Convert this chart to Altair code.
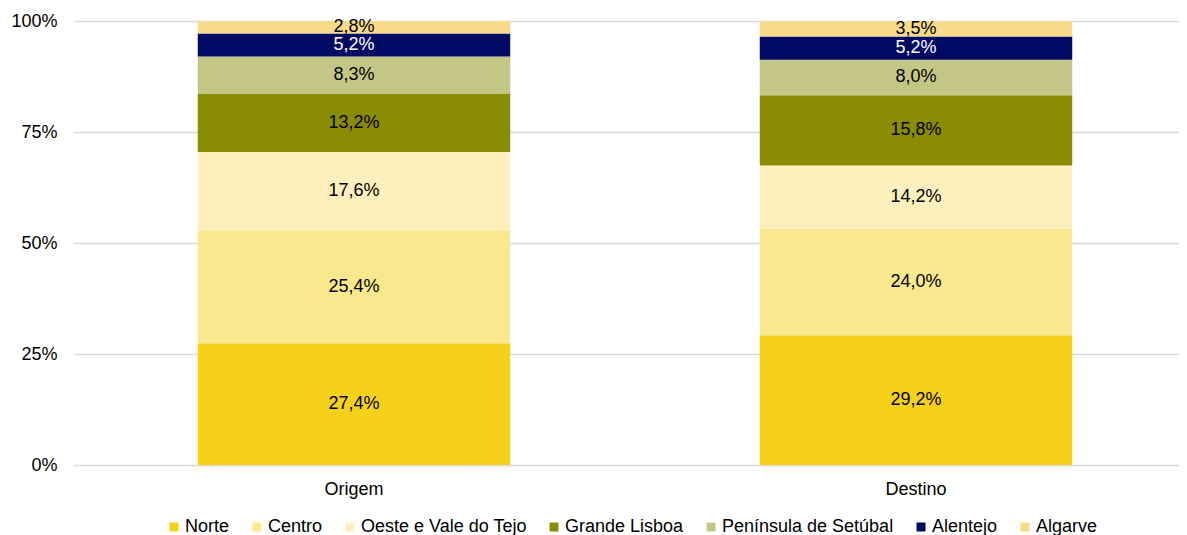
import altair as alt
import pandas as pd

groups = ["Origem", "Destino"]
regions = ["Norte", "Centro", "Oeste e Vale do Tejo", "Grande Lisboa",
           "Península de Setúbal", "Alentejo", "Algarve"]
origem = [27.4, 25.4, 17.6, 13.2, 8.3, 5.2, 2.8]
destino = [29.2, 24.0, 14.2, 15.8, 8.0, 5.2, 3.5]
colors = ["#F6D11A", "#FAE88F", "#FDF0BD", "#8A8C03", "#C3C685", "#000A62", "#F8DB8A"]
text_colors = ["#000000", "#000000", "#000000", "#000000", "#000000", "#FFFFFF", "#000000"]

rows = []
for g, vals in zip(groups, [origem, destino]):
    for i, (r, v) in enumerate(zip(regions, vals)):
        rows.append({"grupo": g, "regiao": r, "valor": v, "ordem": i,
                     "rotulo": f"{v:.1f}".replace(".", ",") + "%",
                     "cor_texto": text_colors[i]})
df = pd.DataFrame(rows)

base = alt.Chart(df).transform_stack(
    stack="valor", groupby=["grupo"], as_=["s0", "s1"],
    sort=[alt.SortField("ordem", order="ascending")]
).transform_joinaggregate(
    total="sum(valor)", groupby=["grupo"]
).transform_calculate(
    y0="datum.s0 / datum.total",
    y1="datum.s1 / datum.total",
    ym="(datum.s0 + datum.s1) / 2 / datum.total",
)

x_scale = alt.Scale(domain=groups, range=[0, 1124], paddingInner=0.444, paddingOuter=0.222)

x_enc = alt.X("grupo:N", sort=groups, title=None, scale=x_scale,
              axis=alt.Axis(labelAngle=0, ticks=False, domain=False,
                            labelFontSize=18, labelPadding=15,
                            labelColor="#000000", labelFont="Liberation Sans"))

bars = base.mark_bar().encode(
    x=x_enc,
    y=alt.Y("y0:Q", title=None,
            scale=alt.Scale(domain=[0, 1], nice=False),
            axis=alt.Axis(format=".0%", values=[0, 0.25, 0.5, 0.75, 1],
                          ticks=False, domain=False, grid=True,
                          gridColor="#D9D9D9", gridWidth=1.5,
                          labelFontSize=18, labelPadding=16,
                          labelColor="#000000", labelFont="Liberation Sans")),
    y2="y1:Q",
    color=alt.Color("regiao:N", sort=regions,
                    scale=alt.Scale(domain=regions, range=colors),
                    legend=alt.Legend(title=None, orient="none", legendX=92, legendY=497,
                                      direction="horizontal",
                                      columns=7, symbolType="square", symbolSize=81,
                                      symbolStrokeWidth=0, labelFontSize=18,
                                      labelFont="Liberation Sans", labelColor="#000000",
                                      labelOffset=2, columnPadding=18, padding=0,
                                      labelLimit=400)),
)

texts = base.mark_text(fontSize=18, font="Liberation Sans", baseline="middle").encode(
    x=alt.X("grupo:N", sort=groups, scale=x_scale),
    y=alt.Y("ym:Q"),
    text="rotulo:N",
    color=alt.Color("cor_texto:N", scale=None),
)

chart = alt.layer(bars, texts).properties(
    width=1106, height=444,
    autosize=alt.AutoSizeParams(type="none"),
    padding={"left": 65, "top": 13, "right": 0, "bottom": 71},
).configure_view(stroke=None)

chart.save("out.html", embed_options={"renderer": "svg", "actions": False})
